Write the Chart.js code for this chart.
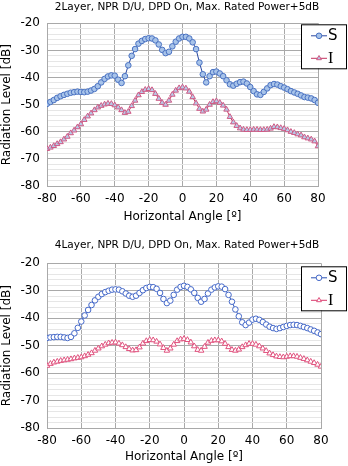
<!DOCTYPE html>
<html lang="en">
<head>
<meta charset="UTF-8">
<title>Radiation Level</title>
<script src="https://cdn.jsdelivr.net/npm/chart.js"></script>
<style>
    body { margin: 0; background: #fff; }
    .graf { width: 348px; height: 233px; }
</style>
</head>
<body>
    <div class="graf"><canvas id="chart2Layer" width="348" height="233"></canvas></div>
    <div class="graf"><canvas id="chart4Layer" width="348" height="233"></canvas></div>

<script>
    // horizontal angle [deg], one sample every 2 degrees
    var angles = [-80, -78, -76, -74, -72, -70, -68, -66, -64, -62, -60, -58, -56, -54, -52, -50, -48, -46, -44, -42,
        -40, -38, -36, -34, -32, -30, -28, -26, -24, -22, -20, -18, -16, -14, -12, -10, -8, -6, -4, -2,
        0, 2, 4, 6, 8, 10, 12, 14, 16, 18, 20, 22, 24, 26, 28, 30, 32, 34, 36, 38,
        40, 42, 44, 46, 48, 50, 52, 54, 56, 58, 60, 62, 64, 66, 68, 70, 72, 74, 76, 78, 80];

    var xTicks = [-80, -60, -40, -20, 0, 20, 40, 60, 80];
    var yTicks = [-80, -70, -60, -50, -40, -30, -20];

    // 2Layer
    var s2Layer = [-49.7, -49.0, -48.3, -47.5, -46.9, -46.4, -46.0, -45.6, -45.4, -45.2,
        -45.3, -45.4, -45.2, -44.8, -44.2, -43.2, -41.8, -40.5, -39.6, -39.2,
        -39.3, -40.8, -42.0, -39.5, -35.5, -32.0, -29.5, -27.5, -26.5, -25.8,
        -25.5, -25.6, -26.3, -27.8, -29.8, -31.0, -30.5, -28.5, -26.8, -25.6,
        -25.0, -25.0, -25.6, -27.0, -29.5, -34.5, -38.8, -41.8, -39.5, -38.0,
        -37.8, -38.5, -39.5, -41.0, -42.5, -43.0, -42.3, -41.7, -41.5, -42.2,
        -43.5, -45.0, -46.2, -46.4, -45.3, -44.0, -42.8, -42.4, -42.6, -43.2,
        -43.7, -44.3, -45.0, -45.5, -46.0, -46.6, -47.2, -47.4, -47.7, -48.3, -49.3];
    var i2Layer = [-66.3, -65.8, -65.2, -64.5, -63.8, -62.8, -61.8, -60.5, -59.5, -58.3,
        -57.2, -55.6, -54.3, -53.2, -52.0, -51.0, -50.4, -49.9, -49.6, -49.7,
        -50.2, -51.0, -52.0, -53.0, -52.6, -50.5, -48.5, -46.5, -45.3, -44.5,
        -44.2, -44.6, -46.0, -47.8, -49.3, -50.0, -48.5, -46.3, -44.8, -43.9,
        -43.6, -44.0, -45.2, -47.2, -49.5, -51.5, -52.5, -51.8, -50.0, -49.0,
        -48.7, -49.3, -50.3, -51.8, -54.5, -56.5, -57.8, -58.7, -59.2, -59.3,
        -59.3, -59.2, -59.2, -59.3, -59.3, -59.2, -58.8, -58.2, -58.3, -58.6,
        -58.9, -59.4, -60.0, -60.4, -60.9, -61.3, -62.0, -62.4, -62.8, -63.5, -65.3];

    // 4Layer
    var s4Layer = [-47.2, -47.0, -46.9, -46.8, -46.8, -47.0, -47.2, -46.8, -45.5, -43.5,
        -41.2, -39.0, -37.0, -35.2, -33.5, -32.2, -31.2, -30.5, -30.0, -29.6,
        -29.5, -29.6, -30.2, -31.0, -31.8, -32.2, -31.8, -30.8, -29.8, -29.0,
        -28.6, -28.7, -29.3, -30.8, -33.0, -34.5, -33.6, -31.5, -29.6, -28.6,
        -28.2, -28.6, -29.5, -30.8, -32.6, -34.0, -33.0, -31.0, -29.6, -28.8,
        -28.4, -28.5, -29.4, -31.5, -34.0, -36.8, -39.3, -41.5, -42.5, -41.6,
        -40.5, -40.2, -40.6, -41.4, -42.3, -43.1, -43.6, -43.9, -43.6, -43.2,
        -42.8, -42.5, -42.4, -42.5, -42.8, -43.2, -43.6, -44.1, -44.6, -45.2, -45.8];
    var i4Layer = [-57.3, -56.6, -56.1, -55.8, -55.5, -55.3, -55.1, -54.9, -54.6, -54.4,
        -54.2, -53.8, -53.3, -52.7, -51.8, -51.0, -50.2, -49.6, -49.1, -48.9,
        -48.8, -49.2, -49.8, -50.5, -51.2, -51.7, -51.6, -50.6, -49.2, -48.3,
        -47.9, -48.0, -48.5, -49.5, -50.8, -51.8, -51.0, -49.6, -48.3, -47.7,
        -47.5, -47.9, -48.8, -50.2, -51.5, -51.8, -50.4, -48.9, -48.2, -48.0,
        -48.0, -48.4, -49.3, -50.5, -51.5, -51.8, -51.4, -50.5, -49.8, -49.3,
        -49.3, -49.6, -50.2, -51.0, -51.9, -52.8, -53.4, -53.9, -54.1, -54.2,
        -54.0, -53.8, -53.8, -54.0, -54.4, -54.8, -55.3, -55.8, -56.3, -56.9, -57.6];

    var fonte = 'DejaVu Sans, Verdana, sans-serif';

    function pontos(valores) {
        return angles.map(function (a, i) { return { x: a, y: valores[i] }; });
    }

    // title + legend box drawn by hand, placed like in the original
    const caixaLegenda = {
        id: 'caixaLegenda',
        afterDraw(chart, args, opts) {
            const ctx = chart.ctx;
            ctx.save();

            // title
            ctx.fillStyle = '#000000';
            ctx.textAlign = 'center';
            ctx.textBaseline = 'middle';
            ctx.font = '10.5px ' + fonte;
            ctx.fillText(opts.titulo, opts.tituloX, opts.tituloY);

            // legend
            const x = chart.width - 47;
            const y = chart.chartArea.top + opts.top;
            ctx.fillStyle = '#ffffff';
            ctx.fillRect(x, y, 46, 44);
            ctx.strokeStyle = '#000000';
            ctx.lineWidth = 1;
            ctx.strokeRect(x + 0.5, y + 0.5, 45, 44);

            chart.data.datasets.forEach(function (ds, i) {
                const cy = y + 11.5 + i * 22.5;
                ctx.strokeStyle = ds.borderColor;
                ctx.lineWidth = 1;
                ctx.beginPath();
                ctx.moveTo(x + 10, cy);
                ctx.lineTo(x + 26, cy);
                ctx.stroke();
                ctx.fillStyle = ds.pointBackgroundColor;
                ctx.strokeStyle = ds.pointBorderColor;
                Chart.helpers.drawPoint(ctx, { pointStyle: ds.pointStyle, radius: 2.8, borderWidth: 1, rotation: 0 }, x + 18, cy);
                ctx.fillStyle = '#000000';
                ctx.textBaseline = 'middle';
                ctx.textAlign = 'left';
                ctx.font = i === 0 ? '15px ' + fonte : '16px "Liberation Serif", serif';
                ctx.fillText(ds.label, x + 27, cy + 0.5);
            });
            ctx.restore();
        }
    };

    function plotarGrafico(idCanvas, titulo, s, iv, estilo) {
        let dados = {
            datasets: [
                {
                    label: 'S',
                    data: pontos(s),
                    borderColor: estilo.sLinha,
                    borderWidth: 1,
                    pointStyle: 'circle',
                    pointRadius: 2.8,
                    pointBorderWidth: 1,
                    pointBackgroundColor: estilo.sFundo,
                    pointBorderColor: estilo.sBorda,
                    tension: 0
                },
                {
                    label: 'I',
                    data: pontos(iv),
                    borderColor: estilo.iLinha,
                    borderWidth: 1,
                    pointStyle: 'triangle',
                    pointRadius: 3.2,
                    pointBorderWidth: 1,
                    pointBackgroundColor: estilo.iFundo,
                    pointBorderColor: estilo.iBorda,
                    tension: 0
                }
            ]
        };

        let options = {
            responsive: false,
            animation: false,
            layout: {
                padding: { top: estilo.topo, right: estilo.direita, left: 0, bottom: 0 }
            },
            scales: {
                x: {
                    type: 'linear',
                    min: -80,
                    max: 80,
                    afterBuildTicks: function (scale) {
                        scale.ticks = xTicks.map(function (v) { return { value: v }; });
                    },
                    afterFit: function (scale) { scale.height = estilo.alturaX; },
                    ticks: {
                        color: '#000000',
                        padding: 6,
                        maxRotation: 0,
                        font: { family: fonte, size: 12 }
                    },
                    grid: { color: '#a9a9a9', drawTicks: false },
                    border: { color: '#a9a9a9' },
                    title: {
                        display: true,
                        text: 'Horizontal Angle [º]',
                        color: '#000000',
                        font: { family: fonte, size: 12 },
                        padding: { top: 0, bottom: estilo.tituloX }
                    }
                },
                y: {
                    min: -80,
                    max: -20,
                    afterFit: function (scale) { scale.width = 47; },
                    ticks: {
                        stepSize: 2,
                        autoSkip: false,
                        color: '#000000',
                        padding: 7,
                        font: { family: fonte, size: 12 },
                        callback: function (v) {
                            return yTicks.indexOf(v) >= 0 ? v : '';
                        }
                    },
                    grid: {
                        drawTicks: false,
                        color: function (c) {
                            return yTicks.indexOf(c.tick.value) >= 0 ? '#a9a9a9' : '#e6e6e6';
                        }
                    },
                    border: { color: '#a9a9a9' },
                    title: {
                        display: true,
                        text: 'Radiation Level [dB]',
                        color: '#000000',
                        font: { family: fonte, size: 12 },
                        padding: { top: 0, bottom: 0 }
                    }
                }
            },
            plugins: {
                legend: { display: false },
                tooltip: { enabled: false },
                title: { display: false },
                caixaLegenda: {
                    top: estilo.legTopo,
                    titulo: titulo,
                    tituloX: 187,
                    tituloY: estilo.tituloY
                }
            }
        };

        const config = {
            type: 'line',
            data: dados,
            options: options,
            plugins: [caixaLegenda]
        };

        return new Chart(document.getElementById(idCanvas), config);
    }

    plotarGrafico('chart2Layer', '2Layer, NPR D/U, DPD On, Max. Rated Power+5dB', s2Layer, i2Layer, {
        sLinha: '#2846a0', sFundo: '#a7c3e9', sBorda: '#4a72c2',
        iLinha: '#c4335f', iFundo: '#b7cbe8', iBorda: '#d05a85',
        topo: 23.3, direita: 30, alturaX: 47, tituloX: 9, tituloY: 7.5, legTopo: 1
    });

    plotarGrafico('chart4Layer', '4Layer, NPR D/U, DPD On, Max. Rated Power+5dB', s4Layer, i4Layer, {
        sLinha: '#2a52b5', sFundo: '#ffffff', sBorda: '#4569c9',
        iLinha: '#d9386b', iFundo: '#ffffff', iBorda: '#e0527e',
        topo: 30.3, direita: 27, alturaX: 38, tituloX: 2, tituloY: 12.5, legTopo: 3
    });
</script>
</body>
</html>
